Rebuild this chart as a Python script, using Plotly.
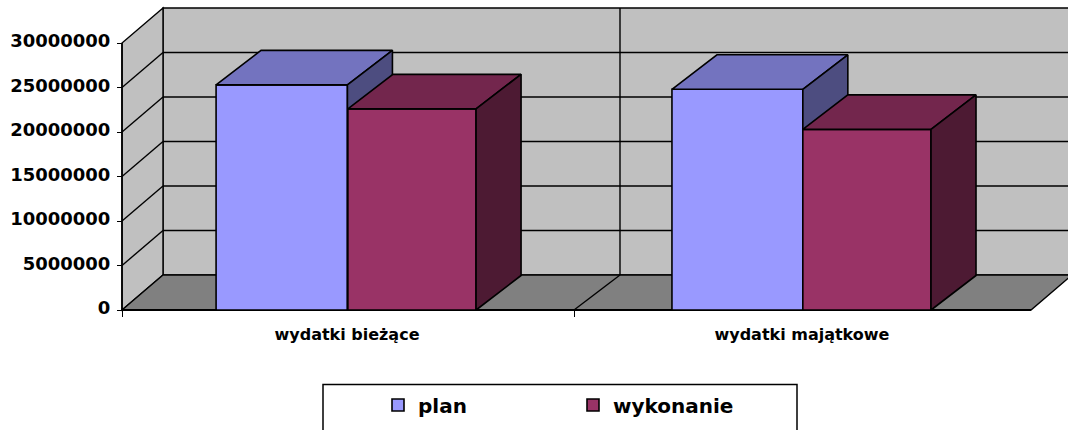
import plotly.graph_objects as go

categories = ["wydatki bieżące", "wydatki majątkowe"]
plan = [25300000, 24800000]
wykonanie = [22600000, 20300000]
y_ticks = [0, 5000000, 10000000, 15000000, 20000000, 25000000, 30000000]
series_names = ["plan", "wykonanie"]

W, H = 1068, 430
X0, XPX = 122, 454.5      # pixel of x=0, pixels per category
Y0, YPX = 310, 44.5 / 5e6 # pixel of y=0, pixels per unit
DX, DY = 41 / XPX, 35 / YPX            # wall depth
BDX, BDY = 45 / XPX, 34.5 / YPX        # bar depth
PLAN_L = [0.207, 1.21]
PLAN_W = [0.289, 0.288]
WYK_L = [0.497, 1.498]
WYK_W = [0.282, 0.282]
xr = [-X0 / XPX, (W - X0) / XPX]
yr = [-(H - Y0) / YPX, Y0 / YPX]
FONT = "DejaVu Sans"
LINE = "#000000"


def poly(pts, fill):
    xs = [p[0] for p in pts]
    ys = [p[1] for p in pts]
    return dict(type="path", xref="x", yref="y", layer="below",
                path="M" + " L".join(f"{x},{y}" for x, y in zip(xs, ys)) + " Z",
                fillcolor=fill, line=dict(color=LINE, width=1.4))


def seg(x1, y1, x2, y2, w=1.4):
    return dict(type="line", xref="x", yref="y", layer="below", x0=x1, y0=y1, x1=x2, y1=y2,
                line=dict(color=LINE, width=w))


top = y_ticks[-1]
shapes = [
    poly([(DX, DY), (2 + DX, DY), (2 + DX, top + DY), (DX, top + DY)], "#C0C0C0"),
    poly([(0, 0), (0, top), (DX, top + DY), (DX, DY)], "#C0C0C0"),
    poly([(0, 0), (2, 0), (2 + DX, DY), (DX, DY)], "#808080"),
]
for v in y_ticks[1:-1]:
    shapes.append(seg(0, v, DX, v + DY))
    shapes.append(seg(DX, v + DY, 2 + DX, v + DY))
shapes.append(seg(1.0957, DY, 1.0957, top + DY))
shapes.append(seg(0.9945, 0, 1.0957, DY))
shapes.append(seg(0, 0, 0, top, 1.6))
shapes.append(seg(0, 0, 2, 0, 1.8))
shapes.append(dict(type="rect", xref="paper", yref="paper", layer="below",
                   x0=323 / W, x1=797 / W, y0=-0.05, y1=1 - 384.5 / H,
                   line=dict(color=LINE, width=1.5), fillcolor="#FFFFFF"))


def add_series(name, vals, lefts, widths, front, top_c, side, xa, ya):
    fig.add_trace(go.Bar(
        x=[l + w / 2 for l, w in zip(lefts, widths)], y=vals, width=widths, name=name,
        marker=dict(color=front, line=dict(color=LINE, width=1.6)),
        xaxis=xa, yaxis=ya, hoverinfo="skip"))
    for v, l, w in zip(vals, lefts, widths):
        r = l + w
        fig.add_trace(go.Scatter(
            x=[l, r, r + BDX, l + BDX, l], y=[v, v, v + BDY, v + BDY, v], mode="lines",
            fill="toself", fillcolor=top_c, line=dict(color=LINE, width=1.6),
            showlegend=False, xaxis=xa, yaxis=ya, hoverinfo="skip"))
        fig.add_trace(go.Scatter(
            x=[r, r + BDX, r + BDX, r, r], y=[0, BDY, v + BDY, v, 0], mode="lines",
            fill="toself", fillcolor=side, line=dict(color=LINE, width=1.6),
            showlegend=False, xaxis=xa, yaxis=ya, hoverinfo="skip"))


fig = go.Figure()
add_series(series_names[0], plan, PLAN_L, PLAN_W, "#9999FF", "#7373BF", "#4D4D80", "x", "y")
add_series(series_names[1], wykonanie, WYK_L, WYK_W, "#993366", "#73264D", "#4D1A33", "x2", "y2")

fig.update_layout(
    width=W, height=H, margin=dict(l=0, r=0, t=0, b=0), autosize=False,
    paper_bgcolor="#FFFFFF", plot_bgcolor="rgba(0,0,0,0)", shapes=shapes,
    xaxis=dict(domain=[0, 1], range=xr, anchor="free", position=1 - Y0 / H, showgrid=False,
               zeroline=False, showline=False, tickmode="array", tickvals=[0.495, 1.496],
               ticktext=categories, ticks="", ticklabelstandoff=13,
               tickfont=dict(family=FONT, size=16, color="#000000", weight="bold"),
               minor=dict(tickmode="array", tickvals=[0, 0.9945], ticks="outside", ticklen=6,
                          tickwidth=1.4, tickcolor=LINE, showgrid=False)),
    yaxis=dict(domain=[0, 1], range=yr, anchor="free", position=X0 / W, showgrid=False,
               zeroline=False, showline=False, tickmode="array", tickvals=y_ticks,
               ticktext=[str(v) for v in y_ticks], ticks="outside", ticklen=5, tickwidth=1.4,
               tickcolor=LINE, ticklabelstandoff=3, ticklabelshift=-2,
               tickfont=dict(family=FONT, size=18, color="#000000", weight="bold")),
    xaxis2=dict(overlaying="x", range=xr, visible=False),
    yaxis2=dict(overlaying="y", range=yr, visible=False),
    legend=dict(orientation="h", x=378 / W, xanchor="left", y=1 - 405 / H, yanchor="middle",
                entrywidth=150, entrywidthmode="pixels", itemwidth=30, traceorder="normal",
                bgcolor="rgba(0,0,0,0)", font=dict(family=FONT, size=20, color="#000000", weight="bold")),
    barmode="overlay",
)
fig.write_html("out.html", config=dict(displayModeBar=False),
               post_script="document.body.style.margin='0';")
